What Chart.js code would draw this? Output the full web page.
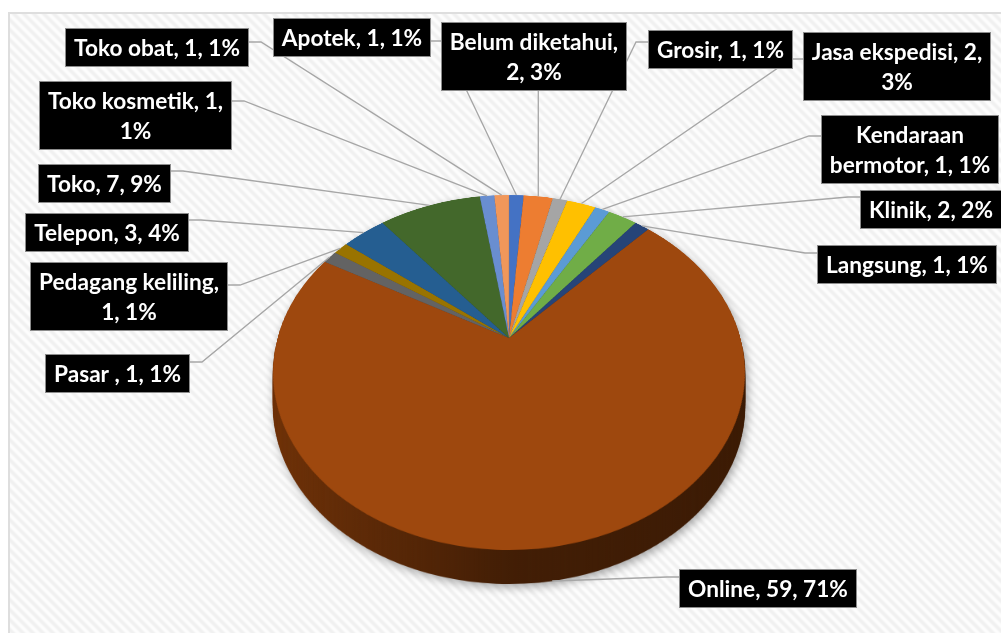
<!DOCTYPE html>
<html>
<head>
<meta charset="utf-8">
<script src="https://cdn.jsdelivr.net/npm/chart.js@4.4.1/dist/chart.umd.min.js"></script>
<style>
  html, body { margin: 0; padding: 0; background: #fff; overflow: hidden; }
  canvas { display: block; }
</style>
</head>
<body>
<canvas id="chart" width="1001" height="633"></canvas>
<script>
// ---- data ----
const categories = ['Apotek', 'Belum diketahui', 'Grosir', 'Jasa ekspedisi', 'Kendaraan bermotor', 'Klinik',
  'Langsung', 'Online', 'Pasar ', 'Pedagang keliling', 'Telepon', 'Toko', 'Toko kosmetik', 'Toko obat'];
const counts = [1, 2, 1, 2, 1, 2, 1, 59, 1, 1, 3, 7, 1, 1];
const percentLabels = ['1%', '3%', '1%', '3%', '1%', '2%', '1%', '71%', '1%', '1%', '4%', '9%', '1%', '1%'];
const sliceColors = ['#4472C4', '#ED7D31', '#A5A5A5', '#FFC000', '#5B9BD5', '#70AD47', '#264478',
  '#9E480E', '#636363', '#997300', '#255E91', '#43682B', '#698ED0', '#F1975A'];

// ---- callout layout (box centre, side the leader leaves from, offset from box top) ----
const callouts = [
  { cx: 351.5, cy: 37.5,  side: 'right',  dy: 23 }, // Apotek
  { cx: 533.5, cy: 56.5,  side: 'bottom', dy: 0  }, // Belum diketahui
  { cx: 720,   cy: 49.5,  side: 'left',   dy: 12 }, // Grosir
  { cx: 896.5, cy: 66,    side: 'left',   dy: 27 }, // Jasa ekspedisi
  { cx: 910,   cy: 149.5, side: 'left',   dy: 21 }, // Kendaraan bermotor
  { cx: 930.5, cy: 209,   side: 'left',   dy: 7  }, // Klinik
  { cx: 906.5, cy: 264,   side: 'left',   dy: 8  }, // Langsung
  { cx: 767.5, cy: 588.5, side: 'left',   dy: 8  }, // Online
  { cx: 117,   cy: 373.5, side: 'right',  dy: 8  }, // Pasar
  { cx: 128.5, cy: 296,   side: 'right',  dy: 23 }, // Pedagang keliling
  { cx: 106.5, cy: 232,   side: 'right',  dy: 7  }, // Telepon
  { cx: 104.5, cy: 183.5, side: 'right',  dy: 7  }, // Toko
  { cx: 135.5, cy: 115,   side: 'right',  dy: 20 }, // Toko kosmetik
  { cx: 157,   cy: 47.5,  side: 'right',  dy: 14 }  // Toko obat
];

// ---- perspective of the tilted pie ----
const CX = 509, CY = 338;      // projected pie centre
const SX = 231.5, SY = 170.8;  // horizontal / vertical projection scale
const Q = -0.1944;             // perspective strength (near side larger)
const DEPTH = 34;              // thickness of the pie
const LINE_H = 30, PAD_X = 9, WRAP = 188;

function makeCanvas(w, h) {
  const c = document.createElement('canvas');
  c.width = w; c.height = h;
  return c;
}

function project(angle) {
  const t = Math.sin(angle), w = 1 + Q * t;
  return { x: CX + SX * Math.cos(angle) / w, y: CY + SY * t / w, t };
}

// re-project the flat pie drawn by Chart.js onto the tilted plane, row by row
function warp(src, dst, cx0, cy0, R0) {
  const g = dst.getContext('2d');
  g.imageSmoothingEnabled = true;
  const yTop = Math.floor(CY - SY / (1 - Q)) - 2;
  const yBot = Math.ceil(CY + SY / (1 + Q)) + 2;
  for (let y = yTop; y <= yBot; y++) {
    const Y = (y + 0.5 - CY) / SY;
    const t = Y / (1 - Q * Y);
    if (t < -1.02 || t > 1.02) continue;
    const w = 1 + Q * t;
    const k = 1 - Q * Y;
    const sh = R0 / (SY * k * k);
    const sy = cy0 + t * R0 - sh / 2;
    const half = SX / w;
    g.drawImage(src, cx0 - R0, sy, 2 * R0, sh, CX - half, y, 2 * half, 1);
  }
}

function drawBackground(ctx, W, H) {
  ctx.fillStyle = '#ffffff';
  ctx.fillRect(0, 0, W, H);
  const tile = makeCanvas(10, 10);
  const tg = tile.getContext('2d');
  const img = tg.createImageData(10, 10);
  for (let y = 0; y < 10; y++) {
    for (let x = 0; x < 10; x++) {
      const ph = (((x - y) % 10) + 10) % 10;
      const v = 0.5 + 0.5 * Math.cos(2 * Math.PI * ph / 10);
      const c = Math.round(253 - 13 * v);
      const i = (y * 10 + x) * 4;
      img.data[i] = c; img.data[i + 1] = c; img.data[i + 2] = c; img.data[i + 3] = 255;
    }
  }
  tg.putImageData(img, 0, 0);
  ctx.fillStyle = ctx.createPattern(tile, 'repeat');
  ctx.fillRect(9, 13, W, H);
  ctx.strokeStyle = '#dedede';
  ctx.lineWidth = 2;
  ctx.strokeRect(9, 13, W + 20, H + 20);
}

function wrapText(ctx, text, maxW) {
  const words = text.split(' ');
  const lines = [];
  let cur = '';
  for (const wd of words) {
    const tryLine = cur ? cur + ' ' + wd : wd;
    if (cur && ctx.measureText(tryLine).width > maxW) {
      lines.push(cur);
      cur = wd;
    } else {
      cur = tryLine;
    }
  }
  if (cur) lines.push(cur);
  return lines;
}

const pie3d = {
  id: 'pie3d',
  afterDatasetsDraw(chart) {
    const cv = chart.canvas, W = cv.width, H = cv.height;
    const meta = chart.getDatasetMeta(0);
    const first = meta.data[0];
    const cx0 = first.x, cy0 = first.y, R0 = first.outerRadius;

    const flat = makeCanvas(W, H);
    flat.getContext('2d').drawImage(cv, 0, 0);

    const top = makeCanvas(W, H);
    warp(flat, top, cx0, cy0, R0);

    const wall = makeCanvas(W, H);
    const wg = wall.getContext('2d');
    for (let d = DEPTH; d >= 1; d--) wg.drawImage(top, 0, d);
    wg.globalCompositeOperation = 'source-atop';
    const grad = wg.createLinearGradient(CX - SX, 0, CX + SX, 0);
    grad.addColorStop(0, 'rgba(0,0,0,0.30)');
    grad.addColorStop(0.5, 'rgba(0,0,0,0.58)');
    grad.addColorStop(1, 'rgba(0,0,0,0.62)');
    wg.fillStyle = grad;
    wg.fillRect(0, 0, W, H);

    const ctx = chart.ctx;
    ctx.save();
    ctx.setTransform(1, 0, 0, 1, 0, 0);
    ctx.clearRect(0, 0, W, H);
    drawBackground(ctx, W, H);

    ctx.save();
    ctx.shadowColor = 'rgba(0,0,0,0.35)';
    ctx.shadowBlur = 10;
    ctx.shadowOffsetX = 2;
    ctx.shadowOffsetY = 3;
    ctx.drawImage(wall, 0, 0);
    ctx.restore();
    ctx.drawImage(top, 0, 0);

    // label text and boxes
    ctx.font = 'bold 22px Lato';
    const fs = 22 * 166 / ctx.measureText('Toko obat, 1, 1%').width;
    ctx.font = 'bold ' + fs.toFixed(2) + 'px Lato';

    const boxes = meta.data.map((arc, i) => {
      const text = categories[i] + ', ' + counts[i] + ', ' + percentLabels[i];
      const lines = wrapText(ctx, text, WRAP);
      const tw = Math.max(...lines.map(l => ctx.measureText(l).width));
      const bw = Math.round(tw + 2 * PAD_X), bh = lines.length * LINE_H + 9;
      const L = callouts[i];
      const left = Math.round(L.cx - bw / 2), topY = Math.round(L.cy - bh / 2);
      const mid = (arc.startAngle + arc.endAngle) / 2;
      const p = project(mid);
      const anchor = { x: p.x, y: p.y + (p.t > 0.5 ? DEPTH : 0) };
      return { lines, left, top: topY, w: bw, h: bh, anchor, L };
    });

    // leader lines
    ctx.strokeStyle = '#a6a6a6';
    ctx.lineWidth = 1.3;
    boxes.forEach(b => {
      ctx.beginPath();
      ctx.moveTo(b.anchor.x, b.anchor.y);
      if (b.L.side === 'bottom') {
        ctx.lineTo(b.anchor.x, b.top + b.h);
      } else {
        const ay = b.top + b.L.dy;
        const ax = b.L.side === 'right' ? b.left + b.w : b.left;
        const ex = b.L.side === 'right' ? ax + 12 : ax - 12;
        ctx.lineTo(ex, ay);
        ctx.lineTo(ax, ay);
      }
      ctx.stroke();
    });

    // boxes
    ctx.textAlign = 'center';
    ctx.textBaseline = 'middle';
    boxes.forEach(b => {
      ctx.fillStyle = '#000000';
      ctx.fillRect(b.left, b.top, b.w, b.h);
      ctx.strokeStyle = '#8c8c8c';
      ctx.lineWidth = 1;
      ctx.strokeRect(b.left + 0.5, b.top + 0.5, b.w - 1, b.h - 1);
      ctx.fillStyle = '#ffffff';
      const cxm = b.left + b.w / 2, cym = b.top + b.h / 2;
      b.lines.forEach((ln, k) => {
        ctx.fillText(ln, cxm, cym + (k - (b.lines.length - 1) / 2) * LINE_H + 1);
      });
    });
    ctx.restore();
  }
};

new Chart(document.getElementById('chart'), {
  type: 'pie',
  data: {
    labels: categories,
    datasets: [{
      data: counts,
      backgroundColor: sliceColors,
      borderWidth: 0
    }]
  },
  options: {
    responsive: false,
    animation: false,
    devicePixelRatio: 1,
    rotation: 0,
    layout: { padding: 0 },
    plugins: {
      legend: { display: false },
      tooltip: { enabled: false }
    }
  },
  plugins: [pie3d]
});
</script>
</body>
</html>
